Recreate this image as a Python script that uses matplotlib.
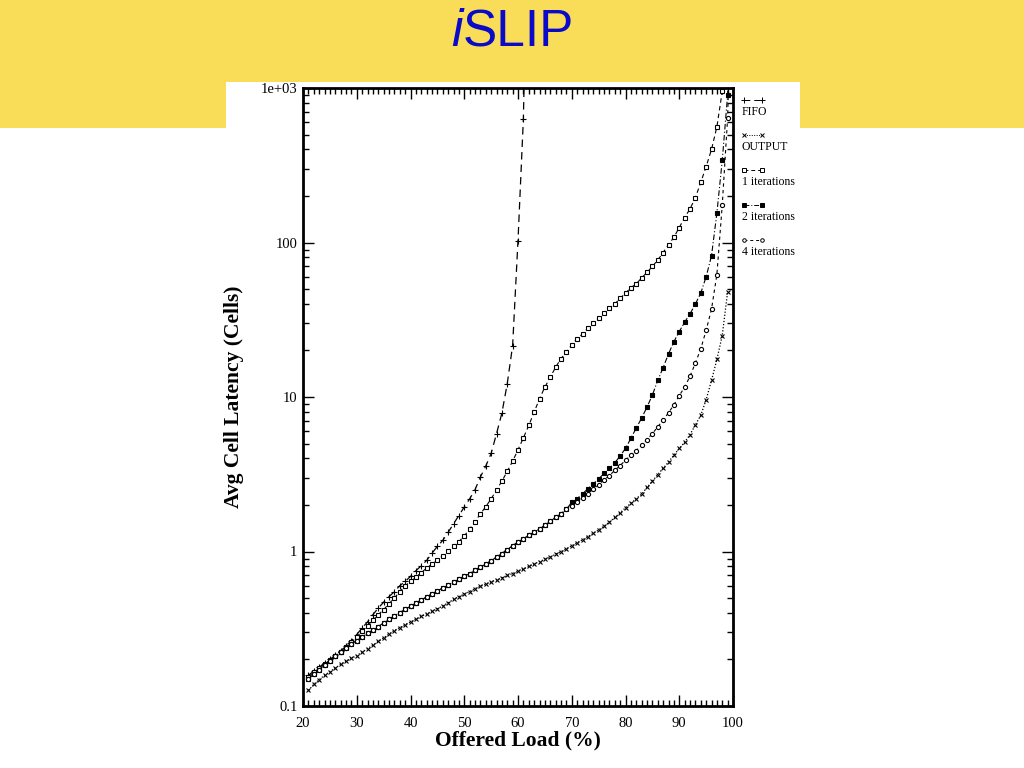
import matplotlib
matplotlib.use('Agg')
import matplotlib.pyplot as plt
from matplotlib.patches import Rectangle
from matplotlib.lines import Line2D
from matplotlib.ticker import MultipleLocator, LogLocator, FixedLocator, FixedFormatter, NullFormatter
import numpy as np

# offered load (%) and average cell latency (cells)
fifo_load = list(range(21, 62)) + [61.3]
fifo_lat = [0.158, 0.168, 0.178, 0.19, 0.20, 0.213, 0.227, 0.245, 0.265, 0.29,
            0.32, 0.35, 0.39, 0.43, 0.47, 0.51, 0.55, 0.60, 0.64, 0.69,
            0.75, 0.81, 0.875, 0.975, 1.08, 1.18, 1.33, 1.51, 1.71, 1.94,
            2.19, 2.51, 3.03, 3.57, 4.31, 5.78, 7.86, 12.2, 21.5, 103,
            630, 2000]

output_load = list(range(21, 100))
output_lat = [0.126, 0.138, 0.148, 0.158, 0.167, 0.176, 0.186, 0.195, 0.203, 0.212,
              0.223, 0.235, 0.248, 0.262, 0.276, 0.292, 0.308, 0.322, 0.336, 0.35,
              0.365, 0.38, 0.395, 0.41, 0.425, 0.445, 0.465, 0.49, 0.51, 0.53,
              0.55, 0.575, 0.595, 0.615, 0.635, 0.655, 0.675, 0.70, 0.72, 0.745,
              0.77, 0.80, 0.83, 0.86, 0.89, 0.92, 0.96, 1.0, 1.04, 1.09,
              1.14, 1.19, 1.25, 1.31, 1.38, 1.46, 1.55, 1.66, 1.78, 1.92,
              2.05, 2.2, 2.35, 2.6, 2.85, 3.15, 3.45, 3.8, 4.2, 4.65,
              5.1, 5.7, 6.6, 7.6, 9.6, 12.8, 17.5, 25, 48]

iter1_load = list(range(21, 99)) + [98.4]
iter1_lat = [0.155, 0.165, 0.175, 0.186, 0.198, 0.21, 0.224, 0.24, 0.258, 0.28,
             0.305, 0.33, 0.36, 0.39, 0.42, 0.46, 0.50, 0.55, 0.60, 0.64,
             0.68, 0.73, 0.78, 0.83, 0.88, 0.94, 1.01, 1.08, 1.16, 1.26,
             1.40, 1.56, 1.75, 1.95, 2.19, 2.50, 2.85, 3.3, 3.84, 4.55,
             5.44, 6.54, 7.98, 9.73, 11.6, 13.4, 15.6, 17.7, 19.5, 21.8,
             23.8, 25.6, 27.9, 30.2, 32.5, 35, 37.5, 40, 43.5, 47,
             51, 54, 59, 64, 70, 77, 86, 97, 108, 125,
             145, 165, 195, 245, 310, 400, 560, 950, 2000]

common_lat = [0.150, 0.160, 0.172, 0.185, 0.197, 0.21, 0.223, 0.237, 0.251, 0.265,
              0.28, 0.295, 0.31, 0.327, 0.345, 0.363, 0.382, 0.402, 0.422, 0.442,
              0.463, 0.485, 0.508, 0.532, 0.556, 0.58, 0.605, 0.632, 0.66, 0.69,
              0.72, 0.755, 0.79, 0.83, 0.87, 0.92, 0.97, 1.03, 1.09, 1.15,
              1.21, 1.27, 1.33, 1.40, 1.48, 1.57, 1.66, 1.76, 1.88]

iter2_load = list(range(21, 100)) + [99.3]
iter2_lat = common_lat + [2.08, 2.2, 2.36, 2.55, 2.74, 2.95, 3.2, 3.45, 3.75, 4.15,
                          4.65, 5.4, 6.3, 7.3, 8.6, 10.3, 12.8, 15.5, 19, 22.8,
                          26.5, 30.5, 34.5, 40, 47, 60, 82, 155, 340, 900, 2000]

iter4_load = list(range(21, 100)) + [99.4]
iter4_lat = common_lat + [1.98, 2.1, 2.22, 2.36, 2.52, 2.7, 2.9, 3.1, 3.35, 3.6,
                          3.9, 4.2, 4.5, 4.9, 5.3, 5.8, 6.4, 7.1, 7.9, 8.9,
                          10.2, 11.6, 13.6, 16.6, 20.5, 27, 37, 62, 175, 640, 2000]

legend_labels = ['FIFO', 'OUTPUT', '1 iterations', '2 iterations', '4 iterations']
ytick_vals = [0.1, 1, 10, 100, 1000]
ytick_labels = ['0.1', '1', '10', '100', '1e+03']

SERIF = ['Liberation Serif', 'DejaVu Serif']

fig = plt.figure(figsize=(10.24, 7.68), dpi=100)

# slide header band and the white picture area over it
fig.patches.append(Rectangle((0, 1 - 128 / 768), 1, 128 / 768, transform=fig.transFigure,
                             facecolor='#F9DD58', edgecolor='none', zorder=-2))
fig.patches.append(Rectangle((226 / 1024, 1 - 128 / 768), 574 / 1024, 46 / 768,
                             transform=fig.transFigure, facecolor='white',
                             edgecolor='none', zorder=-1))

fig.text(0.452, 1 - 33 / 768, 'i', fontsize=37, color='#0A0AC8', style='italic',
         family=['Liberation Sans', 'DejaVu Sans'], ha='right', va='center')
fig.text(0.452, 1 - 33 / 768, 'SLIP', fontsize=37, color='#0A0AC8',
         family=['Liberation Sans', 'DejaVu Sans'], ha='left', va='center')

ax = fig.add_axes([303 / 1024, 1 - 706 / 768, 430 / 1024, 618 / 768])

styles = [
    dict(marker='+', ms=5, mfc='none', ls=(0, (6, 4)), lw=0.9),
    dict(marker='x', ms=3.3, mfc='none', ls=(0, (1, 1.5)), lw=0.9),
    dict(marker='s', ms=3.1, mfc='white', ls=(0, (4, 3)), lw=0.8),
    dict(marker='s', ms=3.1, mfc='black', ls=(0, (5, 2, 1, 2)), lw=0.8),
    dict(marker='o', ms=3.0, mfc='white', ls=(0, (3, 3)), lw=0.8),
]
series = [(fifo_load, fifo_lat), (output_load, output_lat), (iter1_load, iter1_lat),
          (iter2_load, iter2_lat), (iter4_load, iter4_lat)]

for (xs, ys), st in zip(series, styles):
    ax.plot(xs, ys, color='black', mec='black', mew=0.8, **st)

ax.set_yscale('log')
ax.set_xlim(20, 100)
ax.set_ylim(0.1, 1000)

ax.xaxis.set_major_locator(MultipleLocator(10))
ax.xaxis.set_minor_locator(MultipleLocator(1))
ax.yaxis.set_major_locator(FixedLocator(ytick_vals))
ax.yaxis.set_major_formatter(FixedFormatter(ytick_labels))
ax.yaxis.set_minor_locator(LogLocator(base=10, subs=np.arange(2, 10)))
ax.yaxis.set_minor_formatter(NullFormatter())

ax.tick_params(which='both', direction='in', top=True, right=True, width=1.0)
ax.tick_params(which='major', length=8, labelsize=10.5)
ax.tick_params(axis='x', which='major', pad=8)
ax.tick_params(axis='y', which='major', pad=4)
ax.tick_params(which='minor', length=4)
for lab in ax.get_xticklabels() + ax.get_yticklabels():
    lab.set_family(SERIF)
for sp in ax.spines.values():
    sp.set_linewidth(2)

ax.set_xlabel('Offered Load (%)', family=SERIF, fontsize=15.5, fontweight='bold', labelpad=0)
ax.set_ylabel('Avg Cell Latency (Cells)', family=SERIF, fontsize=15.5, fontweight='bold',
              labelpad=12)

# hand drawn legend to the right of the frame
for i, (label, st) in enumerate(zip(legend_labels, styles)):
    ym = 1 - (100 + 35 * i) / 768
    line = Line2D([744 / 1024, 762 / 1024], [ym, ym], transform=fig.transFigure,
                  color='black', mec='black', mew=0.7, lw=0.7,
                  marker=st['marker'], ms=st['ms'] * 0.85, mfc=st['mfc'], ls=st['ls'])
    fig.add_artist(line)
    fig.text(742 / 1024, ym - 12 / 768, label, family=SERIF, fontsize=8.5,
             ha='left', va='center')

fig.savefig('out.png', dpi=100)
